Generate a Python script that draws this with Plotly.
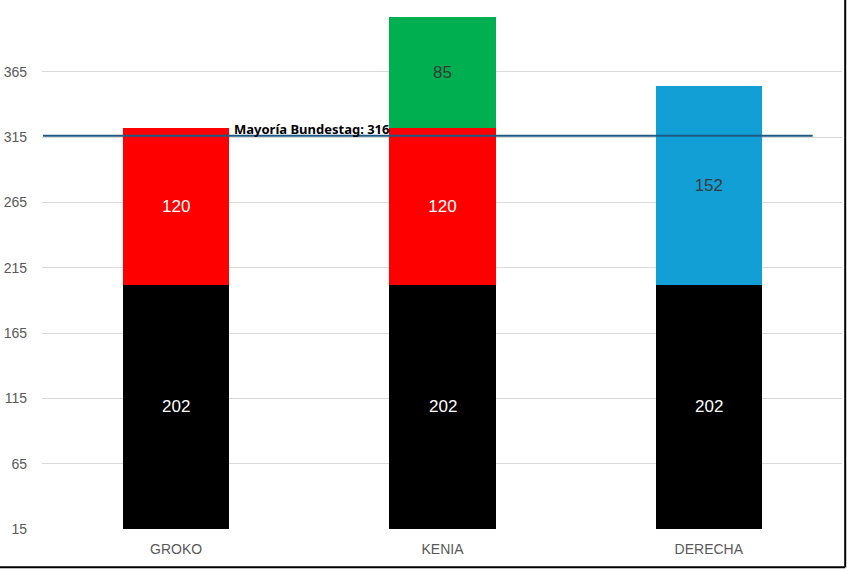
import plotly.graph_objects as go

coaliciones = ["GROKO", "KENIA", "DERECHA"]
union = [202, 202, 202]
spd = [120, 120, None]
verdes = [None, 85, None]
derecha = [None, None, 152]
mayoria = 316
mayoria_texto = "Mayoría Bundestag: 316"
y_ticks = [15, 65, 115, 165, 215, 265, 315, 365]
y_min, y_max = 15, 410

series = [
    (union, "#000000", "#FFFFFF"),
    (spd, "#FF0000", "#FFFFFF"),
    (verdes, "#00B050", "#3A3A3A"),
    (derecha, "#119FD6", "#3A3A3A"),
]

fig = go.Figure()

for i, (valores, color, color_texto) in enumerate(series):
    # la barra negra arranca bajo el eje: su etiqueta va aparte
    textos = [str(v) if v is not None and i > 0 else "" for v in valores]
    fig.add_trace(go.Bar(
        x=coaliciones,
        y=valores,
        marker=dict(color=color, line=dict(width=0)),
        text=textos,
        textposition="inside",
        insidetextanchor="middle",
        textangle=0,
        textfont=dict(size=17, color=color_texto, family="Liberation Sans"),
        width=0.4,
        showlegend=False,
        hoverinfo="skip",
    ))

# etiquetas centradas en la parte visible de la barra negra
for c, v in zip(coaliciones, union):
    fig.add_annotation(
        x=c, y=(y_min + v) / 2, xref="x", yref="y",
        text=str(v), showarrow=False,
        font=dict(size=17, color="#FFFFFF", family="Liberation Sans"),
    )

# linea de mayoria
fig.add_shape(
    type="line", xref="x", yref="y",
    x0=-0.5, x1=2.39, y0=mayoria, y1=mayoria,
    line=dict(color="#1F5A85", width=2),
    layer="above",
)
fig.add_annotation(
    x=0.21, y=mayoria, xref="x", yref="y",
    text="<b>" + mayoria_texto + "</b>",
    showarrow=False, xanchor="left", yanchor="bottom",
    yshift=-4,
    font=dict(size=13, color="#000000", family="Noto Sans"),
)

# borde inferior y derecho
fig.add_shape(type="line", xref="paper", yref="paper",
              x0=-0.06, x1=1.004, y0=-0.0742, y1=-0.0742,
              line=dict(color="#000000", width=2))
fig.add_shape(type="line", xref="paper", yref="paper",
              x0=1.004, x1=1.004, y0=-0.0742, y1=1.03,
              line=dict(color="#000000", width=2))

fig.update_layout(
    barmode="stack",
    width=847, height=569,
    margin=dict(l=42, r=5, t=13, b=40),
    paper_bgcolor="white",
    plot_bgcolor="white",
    font=dict(family="Liberation Sans", color="#595959"),
)
fig.update_xaxes(
    showgrid=False,
    showline=False,
    automargin=False,
    tickfont=dict(size=14, color="#595959"),
    ticklabelstandoff=10,
)
fig.update_yaxes(
    range=[y_min, y_max],
    tickvals=y_ticks,
    showgrid=True,
    gridcolor="#D9D9D9",
    gridwidth=1,
    zeroline=False,
    showline=False,
    automargin=False,
    tickfont=dict(size=14, color="#595959"),
    ticklabelstandoff=14,
)

# quitar el margen por defecto del body para que la figura llene la ventana
fig.write_html("out.html",
               config={"displayModeBar": False},
               post_script="document.body.style.margin='0';document.body.style.overflow='hidden';")
